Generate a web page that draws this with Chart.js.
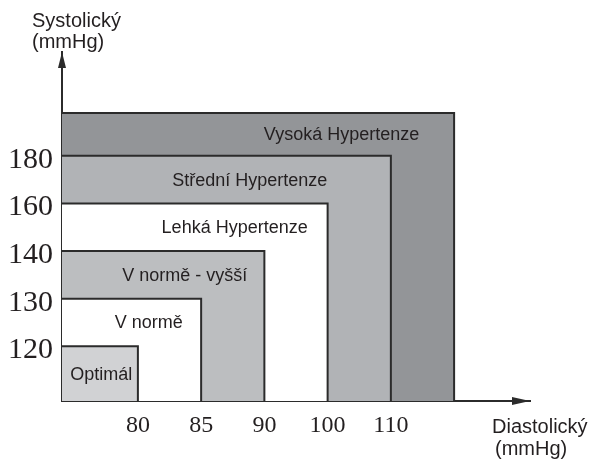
<!DOCTYPE html>
<html>
<head>
<meta charset="utf-8">
<script src="https://cdn.jsdelivr.net/npm/chart.js@4.4.1/dist/chart.umd.min.js"></script>
<style>
  body { margin: 0; background: #fff; }
  #wrap { width: 602px; height: 461px; }
</style>
</head>
<body>
<div id="wrap"><canvas id="bpChart"></canvas></div>
<script>
// kategorie krevniho tlaku (od nejmensi)
const categories = ['Optimál', 'V normě', 'V normě - vyšší', 'Lehká Hypertenze', 'Střední Hypertenze', 'Vysoká Hypertenze'];
const diastolicLimits = [80, 85, 90, 100, 110, null];   // null = bez horni hranice
const systolicLimits = [120, 130, 140, 160, 180, null];
const fillColors = ['#d1d2d4', '#ffffff', '#bcbec0', '#ffffff', '#b1b3b6', '#939598'];

// popisky os
const diaTicks = [80, 85, 90, 100, 110];
const sysTicks = [120, 130, 140, 160, 180];

// osy jsou poradove (stejne rozestupy mezi hodnotami)
const X_MIN = -0.2, X_MAX = 7.2, X_OUTER = 6;
const Y_MIN = -0.15, Y_MAX = 7.18, Y_OUTER = 5.9;
const labelX = [0.42, 1.17, 1.74, 2.53, 2.77, 4.22];

function xPos(v) { return v === null ? X_OUTER : diaTicks.indexOf(v) + 1; }
function yPos(v) { return v === null ? Y_OUTER : sysTicks.indexOf(v) + 1; }

const datasets = categories.map((name, i) => {
    const w = xPos(diastolicLimits[i]);
    const h = yPos(systolicLimits[i]);
    return {
        label: name,
        data: [{ x: X_MIN, y: h }, { x: w, y: h }, { x: w, y: Y_MIN }],
        showLine: true,
        fill: 'start',
        backgroundColor: fillColors[i],
        borderColor: '#2b2b2b',
        borderWidth: 2,
        pointRadius: 0,
        tension: 0,
        clip: false,
        order: i
    };
});

const annotate = {
    id: 'annotate',
    afterDraw(chart) {
        const ctx = chart.ctx;
        const x = chart.scales.x, y = chart.scales.y;
        const area = chart.chartArea;
        ctx.save();
        // sipky na osach
        ctx.fillStyle = '#2b2b2b';
        ctx.beginPath();
        ctx.moveTo(area.left, area.top);
        ctx.lineTo(area.left - 4, area.top + 16);
        ctx.lineTo(area.left + 4, area.top + 16);
        ctx.closePath();
        ctx.fill();
        ctx.beginPath();
        ctx.moveTo(area.right, area.bottom);
        ctx.lineTo(area.right - 18, area.bottom - 4);
        ctx.lineTo(area.right - 18, area.bottom + 4);
        ctx.closePath();
        ctx.fill();

        // nazvy kategorii
        ctx.fillStyle = '#231f20';
        ctx.font = '18px "Liberation Sans", Arial, sans-serif';
        ctx.textAlign = 'center';
        ctx.textBaseline = 'middle';
        categories.forEach((name, i) => {
            const top = yPos(systolicLimits[i]);
            const bottom = i === 0 ? Y_MIN : yPos(systolicLimits[i - 1]);
            ctx.fillText(name, x.getPixelForValue(labelX[i]), y.getPixelForValue((top + bottom) / 2) + 1);
        });

        // nazvy os
        ctx.font = '20px "Liberation Sans", Arial, sans-serif';
        ctx.textAlign = 'left';
        ctx.textBaseline = 'alphabetic';
        ctx.fillText('Systolický', 32, 27);
        ctx.fillText('(mmHg)', 32, 48);
        ctx.fillText('Diastolický', 492, 433);
        ctx.fillText('(mmHg)', 495, 455);
        ctx.restore();
    }
};

new Chart(document.getElementById('bpChart'), {
    type: 'scatter',
    data: { datasets: datasets },
    options: {
        responsive: true,
        maintainAspectRatio: false,
        animation: false,
        layout: { padding: { top: 52, right: 72, left: 0, bottom: 0 } },
        plugins: {
            legend: { display: false },
            tooltip: { enabled: false }
        },
        scales: {
            x: {
                type: 'linear',
                min: X_MIN,
                max: X_MAX,
                afterFit(scale) { scale.height = 60; },
                afterBuildTicks(scale) { scale.ticks = diaTicks.map((v, i) => ({ value: i + 1 })); },
                grid: { display: false, drawTicks: false },
                border: { display: true, color: '#2b2b2b', width: 2 },
                ticks: {
                    padding: 10,
                    color: '#231f20',
                    font: { family: '"Liberation Serif", "Times New Roman", serif', size: 24 },
                    callback: (val) => diaTicks[val - 1]
                }
            },
            y: {
                type: 'linear',
                min: Y_MIN,
                max: Y_MAX,
                afterFit(scale) { scale.width = 62; },
                afterBuildTicks(scale) { scale.ticks = sysTicks.map((v, i) => ({ value: i + 1 })); },
                grid: { display: false, drawTicks: false },
                border: { display: true, color: '#2b2b2b', width: 2 },
                ticks: {
                    padding: 9,
                    labelOffset: 4,
                    color: '#231f20',
                    font: { family: '"Liberation Serif", "Times New Roman", serif', size: 30 },
                    callback: (val) => sysTicks[val - 1]
                }
            }
        }
    },
    plugins: [annotate]
});
</script>
</body>
</html>
